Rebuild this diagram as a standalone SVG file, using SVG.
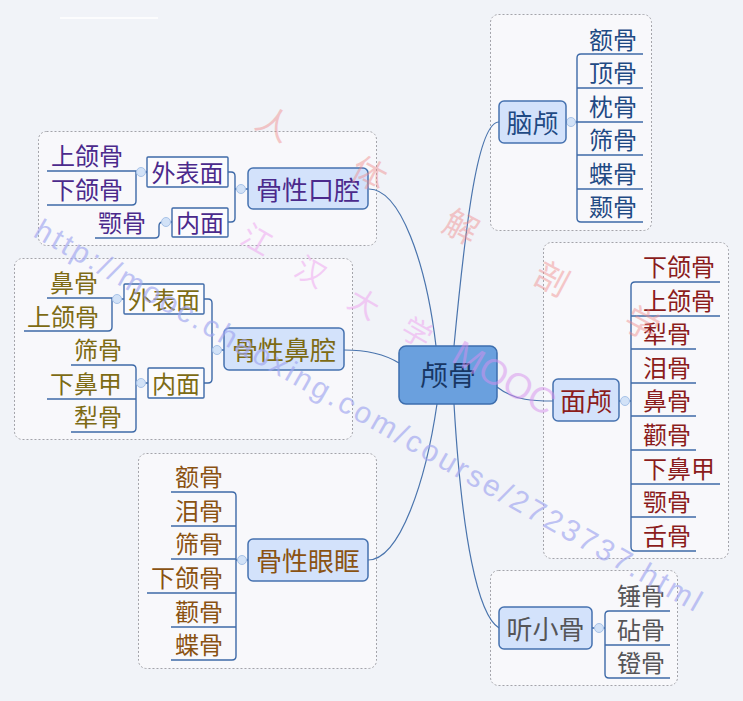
<svg xmlns="http://www.w3.org/2000/svg" width="743" height="701" viewBox="0 0 743 701">
<defs>
<style>
.bg{fill:#f1f3f8}
.grp{fill:#f8f8fb;stroke:#a4a4aa;stroke-width:1;stroke-dasharray:2 2}
.node{fill:#d3e2fb;stroke:#4672b0;stroke-width:1.5}
.root{fill:#6aa0de;stroke:#3d6eae;stroke-width:1.5}
.box{fill:#fbfbfd;stroke:#3e6aa8;stroke-width:1.4}
.ln{fill:none;stroke:#3e6aa8;stroke-width:1.4}
.cv{fill:none;stroke:#4a74ad;stroke-width:1.2}
.dot{fill:#d2e2f7;stroke:#a8c3e8;stroke-width:1}
text{font-family:"Noto Sans CJK SC","Noto Sans",sans-serif;dominant-baseline:central}
.tr{font-size:28px;fill:#183764;text-anchor:middle}
.ts{font-size:26px;text-anchor:middle}
.tb{font-size:24px;text-anchor:middle}
.lf{font-size:24px}
.R{text-anchor:start}
.L{text-anchor:end}
.c1{fill:#1f4a84}
.c2{fill:#8b1c1c}
.c3{fill:#555558}
.c4{fill:#4b2a8c}
.c5{fill:#7d6b14}
.c6{fill:#8a5212}
.wm1{font-size:34px;fill:#f08a8a;opacity:.45;text-anchor:middle}
.wm2{font-size:30px;fill:#ee98ee;opacity:.45;text-anchor:middle}
.wm3{font-family:"Liberation Sans",Arial,sans-serif;font-size:36px;fill:#d890ee;opacity:.5}
.wm4{font-family:"Liberation Sans",Arial,sans-serif;font-size:30px;fill:#a0a6f0;opacity:.65;dominant-baseline:alphabetic}
</style>
</defs>
<rect class="bg" x="0" y="0" width="743" height="701"/>
<line x1="60" y1="18" x2="158" y2="18" stroke="#ffffff" stroke-width="1.5"/>

<g id="boundaries">
<rect class="grp" x="490.5" y="14.5" width="161" height="216" rx="8"/>
<rect class="grp" x="543.5" y="242.5" width="185" height="316" rx="8"/>
<rect class="grp" x="490.5" y="570.5" width="187" height="115" rx="8"/>
<rect class="grp" x="38.5" y="131.5" width="338" height="114" rx="8"/>
<rect class="grp" x="14.5" y="258.5" width="338" height="181" rx="8"/>
<rect class="grp" x="138.5" y="453.5" width="238" height="215" rx="8"/>
</g>

<g id="connectors">
<path class="cv" d="M369,189 C400,189 426,262 436,346"/>
<path class="cv" d="M499,122 C478,122 466,220 454,346"/>
<path class="cv" d="M344,350 C370,350 386,355 399,363"/>
<path class="cv" d="M497,387 C515,401 535,401 553,401"/>
<path class="cv" d="M368,560 C400,560 426,480 437,404"/>
<path class="cv" d="M454,404 C462,540 478,615 499,628"/>
<path class="ln" d="M566,122H577 M643,54H581Q577,54 577,58V218Q577,222 581,222H643 M577,88H643 M577,122H643 M577,155H643 M577,189H643"/>
<path class="ln" d="M619,401H631 M720,282H635Q631,282 631,286V547Q631,551 635,551H696 M631,316H720 M631,349H696 M631,383H696 M631,416H696 M631,450H696 M631,484H720 M631,517H696"/>
<path class="ln" d="M592,628H605 M670,611H609Q605,611 605,615V674Q605,678 609,678H670 M605,645H670"/>
<path class="ln" d="M248,189H235 M228,172H231Q235,172 235,176V218Q235,222 231,222H228"/>
<path class="ln" d="M147,172H137 M47,171H137 M136,171V201Q136,205 132,205H47"/>
<path class="ln" d="M172,222H163Q159,222 159,226V234Q159,238 155,238H95"/>
<path class="ln" d="M224,350H212 M204,299H208Q212,299 212,303V379Q212,383 208,383H204"/>
<path class="ln" d="M124,299H113 M47,298H113 M112,298V327Q112,331 108,331H24"/>
<path class="ln" d="M148,383H136 M71,365H132Q136,365 136,369V428Q136,432 132,432H71 M47,399H136"/>
<path class="ln" d="M248,560H236 M171,492H232Q236,492 236,496V656Q236,660 232,660H171 M171,526H236 M171,559H236 M147,593H236 M171,627H236"/>
<circle class="dot" cx="571" cy="122" r="4.5"/>
<circle class="dot" cx="625" cy="401" r="4.5"/>
<circle class="dot" cx="599" cy="628" r="4.5"/>
<circle class="dot" cx="241" cy="189" r="4.5"/>
<circle class="dot" cx="141" cy="172" r="4.5"/>
<circle class="dot" cx="166" cy="222" r="4.5"/>
<circle class="dot" cx="217" cy="350" r="4.5"/>
<circle class="dot" cx="117" cy="299" r="4.5"/>
<circle class="dot" cx="141" cy="383" r="4.5"/>
<circle class="dot" cx="242" cy="560" r="4.5"/>
</g>

<g id="root">
<rect class="root" x="399" y="346" width="98" height="58" rx="7"/>
<text class="tr" x="448" y="374">颅骨</text>
</g>

<g id="brain">
<rect class="node" x="499" y="101" width="67" height="42" rx="5"/>
<text class="ts c1" x="532.5" y="121">脑颅</text>
</g>
<g id="brain-1"><text class="lf R c1" x="589" y="38">额骨</text></g>
<g id="brain-2"><text class="lf R c1" x="589" y="71">顶骨</text></g>
<g id="brain-3"><text class="lf R c1" x="589" y="105">枕骨</text></g>
<g id="brain-4"><text class="lf R c1" x="589" y="138">筛骨</text></g>
<g id="brain-5"><text class="lf R c1" x="589" y="172">蝶骨</text></g>
<g id="brain-6"><text class="lf R c1" x="589" y="205">颞骨</text></g>

<g id="face">
<rect class="node" x="553" y="379" width="66" height="42" rx="5"/>
<text class="ts c2" x="586" y="399">面颅</text>
</g>
<g id="face-1"><text class="lf R c2" x="643" y="265">下颌骨</text></g>
<g id="face-2"><text class="lf R c2" x="643" y="299">上颌骨</text></g>
<g id="face-3"><text class="lf R c2" x="643" y="332">犁骨</text></g>
<g id="face-4"><text class="lf R c2" x="643" y="366">泪骨</text></g>
<g id="face-5"><text class="lf R c2" x="643" y="399">鼻骨</text></g>
<g id="face-6"><text class="lf R c2" x="643" y="433">颧骨</text></g>
<g id="face-7"><text class="lf R c2" x="643" y="467">下鼻甲</text></g>
<g id="face-8"><text class="lf R c2" x="643" y="500">颚骨</text></g>
<g id="face-9"><text class="lf R c2" x="643" y="534">舌骨</text></g>

<g id="ossicles">
<rect class="node" x="499" y="607" width="93" height="42" rx="5"/>
<text class="ts c3" x="545.5" y="627">听小骨</text>
</g>
<g id="oss-1"><text class="lf R c3" x="617" y="594">锤骨</text></g>
<g id="oss-2"><text class="lf R c3" x="617" y="628">砧骨</text></g>
<g id="oss-3"><text class="lf R c3" x="617" y="661">镫骨</text></g>

<g id="oral">
<rect class="node" x="248" y="168" width="120" height="41" rx="5"/>
<text class="ts c4" x="308" y="188">骨性口腔</text>
</g>
<g id="oral-outer">
<rect class="box" x="147" y="157" width="81" height="30" rx="1"/>
<text class="tb c4" x="187.5" y="171">外表面</text>
</g>
<g id="oral-inner">
<rect class="box" x="172" y="208" width="56" height="29" rx="1"/>
<text class="tb c4" x="200" y="221.5">内面</text>
</g>
<g id="oral-1"><text class="lf L c4" x="123" y="154">上颌骨</text></g>
<g id="oral-2"><text class="lf L c4" x="123" y="188">下颌骨</text></g>
<g id="oral-3"><text class="lf L c4" x="146" y="221">颚骨</text></g>

<g id="nasal">
<rect class="node" x="224" y="328" width="120" height="42" rx="5"/>
<text class="ts c5" x="284" y="348">骨性鼻腔</text>
</g>
<g id="nasal-outer">
<rect class="box" x="124" y="284" width="80" height="30" rx="1"/>
<text class="tb c5" x="164" y="298">外表面</text>
</g>
<g id="nasal-inner">
<rect class="box" x="148" y="368" width="56" height="30" rx="1"/>
<text class="tb c5" x="176" y="382">内面</text>
</g>
<g id="nasal-1"><text class="lf L c5" x="98" y="281">鼻骨</text></g>
<g id="nasal-2"><text class="lf L c5" x="99" y="315">上颌骨</text></g>
<g id="nasal-3"><text class="lf L c5" x="122" y="348">筛骨</text></g>
<g id="nasal-4"><text class="lf L c5" x="122" y="382">下鼻甲</text></g>
<g id="nasal-5"><text class="lf L c5" x="122" y="415">犁骨</text></g>

<g id="orbit">
<rect class="node" x="248" y="539" width="120" height="42" rx="5"/>
<text class="ts c6" x="308" y="559">骨性眼眶</text>
</g>
<g id="orbit-1"><text class="lf L c6" x="223" y="475">额骨</text></g>
<g id="orbit-2"><text class="lf L c6" x="223" y="509">泪骨</text></g>
<g id="orbit-3"><text class="lf L c6" x="223" y="542">筛骨</text></g>
<g id="orbit-4"><text class="lf L c6" x="223" y="576">下颌骨</text></g>
<g id="orbit-5"><text class="lf L c6" x="223" y="610">颧骨</text></g>
<g id="orbit-6"><text class="lf L c6" x="223" y="643">蝶骨</text></g>

<g id="watermark">
<text class="wm1" transform="translate(275,122) rotate(28)">人</text>
<text class="wm1" transform="translate(370,172) rotate(28)">体</text>
<text class="wm1" transform="translate(462,225) rotate(28)">解</text>
<text class="wm1" transform="translate(553,277) rotate(28)">剖</text>
<text class="wm1" transform="translate(643,322) rotate(28)">学</text>
<text class="wm2" transform="translate(258,238) rotate(30)">江</text>
<text class="wm2" transform="translate(312,270) rotate(30)">汉</text>
<text class="wm2" transform="translate(365,302) rotate(30)">大</text>
<text class="wm2" transform="translate(418,331) rotate(30)">学</text>
<text class="wm3" transform="translate(456,350) rotate(30)">MOOC</text>
<text class="wm4" transform="translate(32,236) rotate(29.6)" textLength="762" lengthAdjust="spacing">http://mooc.chaoxing.com/course/2723737.html</text>
</g>
</svg>
